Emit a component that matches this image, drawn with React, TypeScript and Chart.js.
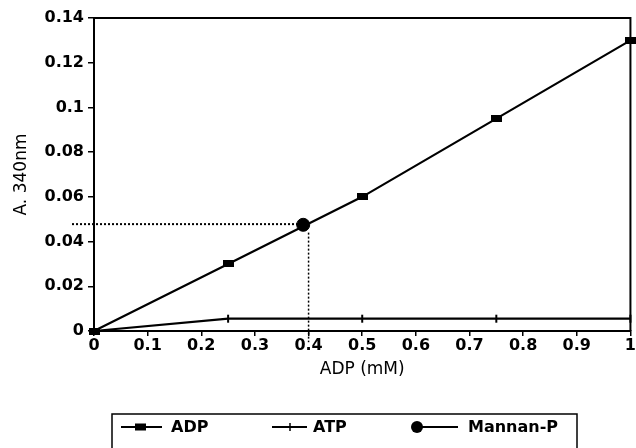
import React, { useEffect, useRef } from "react";
import { Chart, registerables } from "chart.js";

Chart.register(...registerables);

// ---- data ----
const xValues = [0, 0.25, 0.5, 0.75, 1];
const adpValues = [0, 0.03, 0.06, 0.095, 0.13];
const atpValues = [0, 0.0055, 0.0055, 0.0055, 0.0055];
const mannanX = [0.39];
const mannanY = [0.0475];
const guideHX = [-0.041, 0.385];
const guideHY = [0.0478, 0.0478];
const guideVX = [0.4, 0.4];
const guideVY = [0.044, -0.005];
const seriesNames = ["ADP", "ATP", "Mannan-P"];
const xTitle = "ADP (mM)";
const yTitle = "A. 340nm";

const FONT = "'DejaVu Sans', 'Liberation Sans', sans-serif";

function makeRectMarker(w: number, h: number): HTMLCanvasElement {
  const c = document.createElement("canvas");
  c.width = w;
  c.height = h;
  const g = c.getContext("2d")!;
  g.fillStyle = "#000";
  g.fillRect(0, 0, w, h);
  return c;
}

const fmt = (v: number | string) => {
  const n = Number(v);
  return String(Number(n.toFixed(2)));
};

const framePlugin = {
  id: "frame",
  afterDatasetsDraw(chart: any) {
    const { ctx, chartArea: a } = chart;
    ctx.save();
    ctx.strokeStyle = "#000";
    ctx.lineWidth = 2;
    ctx.beginPath();
    ctx.moveTo(a.left, a.top);
    ctx.lineTo(a.right, a.top);
    ctx.lineTo(a.right, a.bottom);
    ctx.stroke();
    ctx.restore();
  },
};

const legendPlugin = {
  id: "customLegend",
  afterDraw(chart: any) {
    const ctx = chart.ctx as CanvasRenderingContext2D;
    ctx.save();
    ctx.strokeStyle = "#000";
    ctx.fillStyle = "#000";
    ctx.lineWidth = 1.5;
    ctx.strokeRect(112, 414, 465, 50);
    const y = 427;
    ctx.lineWidth = 2;
    // ADP
    ctx.beginPath();
    ctx.moveTo(121, y);
    ctx.lineTo(162, y);
    ctx.stroke();
    ctx.fillRect(135, y - 3.5, 11, 7);
    // ATP
    ctx.beginPath();
    ctx.moveTo(272, y);
    ctx.lineTo(307, y);
    ctx.stroke();
    ctx.lineWidth = 1.5;
    ctx.beginPath();
    ctx.moveTo(290, y - 4);
    ctx.lineTo(290, y + 4);
    ctx.stroke();
    // Mannan-P
    ctx.lineWidth = 2;
    ctx.beginPath();
    ctx.moveTo(417, y);
    ctx.lineTo(458, y);
    ctx.stroke();
    ctx.beginPath();
    ctx.arc(417, y, 6, 0, Math.PI * 2);
    ctx.fill();
    ctx.font = `bold 16px ${FONT}`;
    ctx.textBaseline = "middle";
    ctx.textAlign = "left";
    ctx.fillText(seriesNames[0], 171, y + 1);
    ctx.fillText(seriesNames[1], 313, y + 1);
    ctx.fillText(seriesNames[2], 468, y + 1);
    ctx.restore();
  },
};

export default function App() {
  const ref = useRef<HTMLCanvasElement | null>(null);

  useEffect(() => {
    if (!ref.current) return;
    const rectMarker = makeRectMarker(11, 7);
    const chart = new Chart(ref.current, {
      type: "line",
      data: {
        datasets: [
          {
            label: seriesNames[0],
            data: xValues.map((x, i) => ({ x, y: adpValues[i] })),
            borderColor: "#000",
            backgroundColor: "#000",
            borderWidth: 2.2,
            pointStyle: rectMarker as any,
            pointRadius: 5,
            clip: false as any,
          },
          {
            label: seriesNames[1],
            data: xValues.map((x, i) => ({ x, y: atpValues[i] })),
            borderColor: "#000",
            backgroundColor: "#000",
            borderWidth: 2.2,
            pointStyle: "line",
            pointRotation: 90,
            pointRadius: 4,
            pointBorderWidth: 2,
            clip: false as any,
          },
          {
            label: seriesNames[2],
            data: mannanX.map((x, i) => ({ x, y: mannanY[i] })),
            borderColor: "#000",
            backgroundColor: "#000",
            pointStyle: "circle",
            pointRadius: 6.5,
            showLine: false,
            clip: false as any,
          },
          {
            label: "guideH",
            data: guideHX.map((x, i) => ({ x, y: guideHY[i] })),
            borderColor: "#000",
            borderWidth: 2,
            borderDash: [2, 2],
            pointRadius: 0,
            clip: false as any,
          },
          {
            label: "guideV",
            data: guideVX.map((x, i) => ({ x, y: guideVY[i] })),
            borderColor: "#000",
            borderWidth: 1.5,
            borderDash: [2, 2],
            pointRadius: 0,
            clip: false as any,
          },
        ],
      },
      options: {
        animation: false,
        responsive: false,
        maintainAspectRatio: false,
        layout: { autoPadding: false, padding: { top: 18, right: 4, bottom: 68, left: 0 } },
        plugins: {
          legend: { display: false },
          tooltip: { enabled: false },
        },
        scales: {
          x: {
            type: "linear",
            min: 0,
            max: 1,
            afterFit: (s: any) => {
              s.height = 49;
            },
            ticks: {
              stepSize: 0.1,
              color: "#000",
              padding: 0,
              maxRotation: 0,
              autoSkip: false,
              font: { family: FONT, size: 16, weight: "bold" },
              callback: (v: any) => fmt(v),
            },
            grid: {
              drawOnChartArea: false,
              drawTicks: true,
              tickLength: 5,
              color: "#000",
              lineWidth: 1.5,
            },
            border: { display: true, color: "#000", width: 2 },
            title: {
              display: true,
              text: xTitle,
              color: "#000",
              padding: 0,
              font: { family: FONT, size: 17 },
            },
          },
          y: {
            type: "linear",
            min: 0,
            max: 0.14,
            afterFit: (s: any) => {
              s.width = 94;
            },
            ticks: {
              stepSize: 0.02,
              color: "#000",
              padding: 4,
              autoSkip: false,
              font: { family: FONT, size: 16, weight: "bold" },
              callback: (v: any) => fmt(v),
            },
            grid: {
              drawOnChartArea: false,
              drawTicks: true,
              tickLength: 6,
              color: "#000",
              lineWidth: 1.5,
            },
            border: { display: true, color: "#000", width: 2 },
            title: {
              display: true,
              text: yTitle,
              color: "#000",
              padding: { top: 11, bottom: 0 },
              font: { family: FONT, size: 17 },
            },
          },
        },
      },
      plugins: [framePlugin, legendPlugin],
    });
    return () => chart.destroy();
  }, []);

  return (
    <div style={{ position: "fixed", left: 0, top: 0, width: 636, height: 448, background: "#fff" }}>
      <canvas ref={ref} width={636} height={448} style={{ display: "block" }} />
    </div>
  );
}
